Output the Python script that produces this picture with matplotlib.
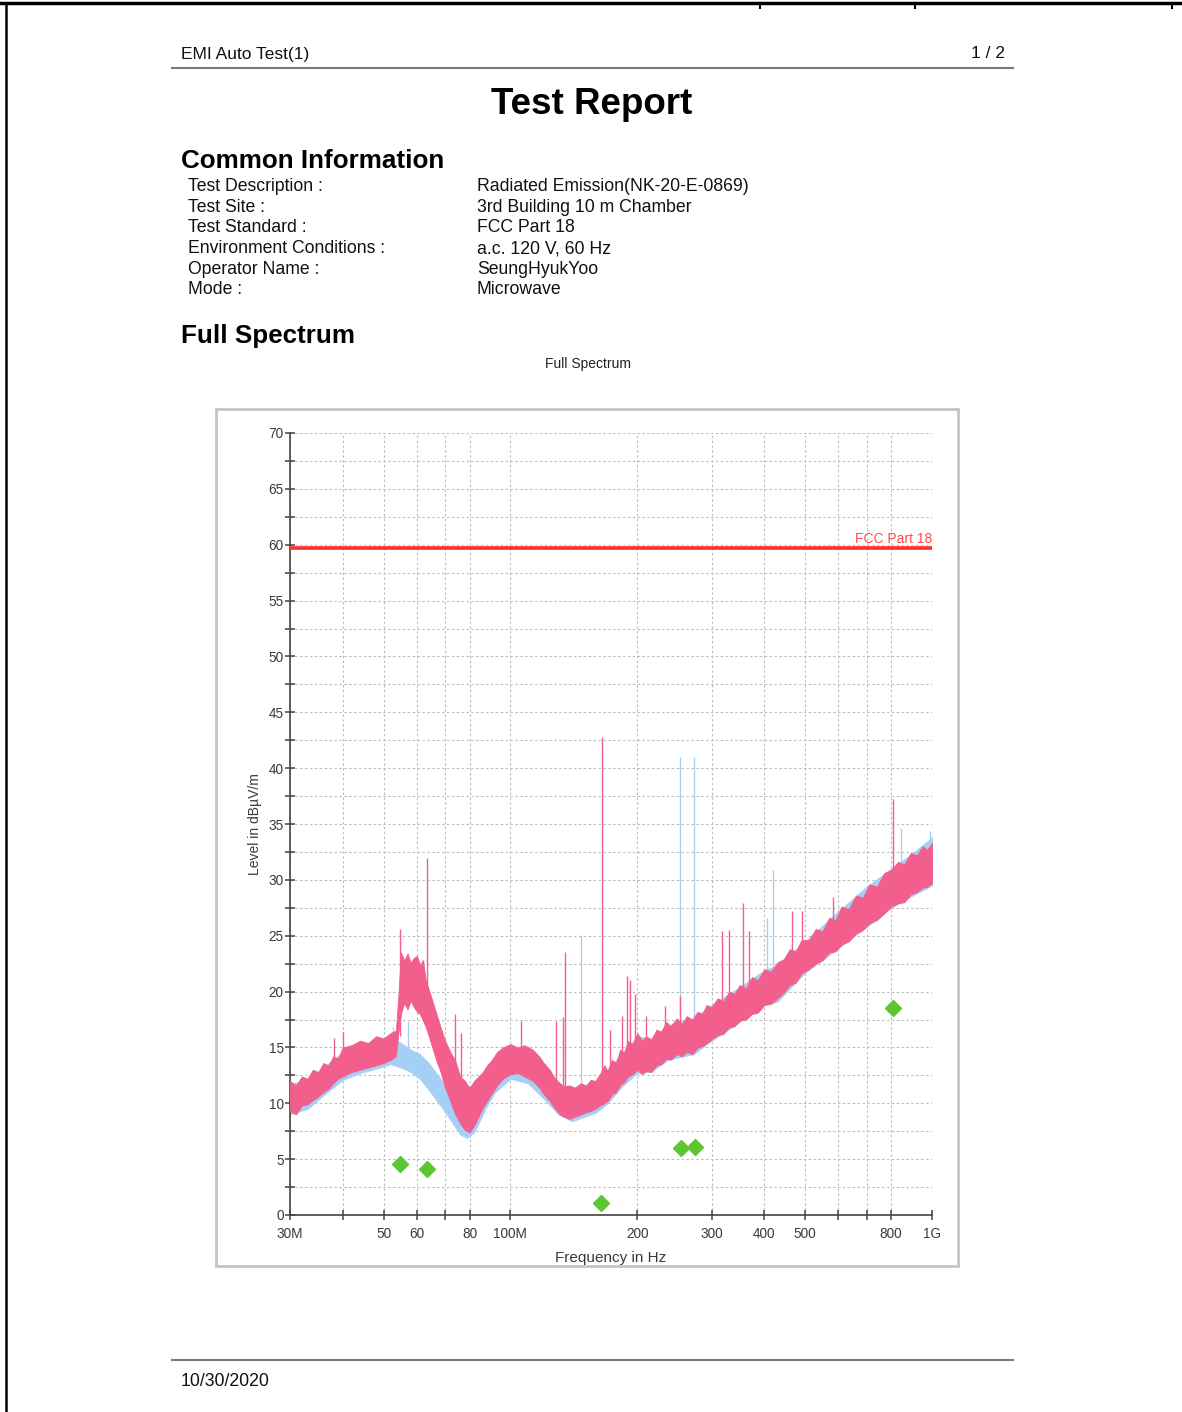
import matplotlib
matplotlib.use("Agg")
import matplotlib.pyplot as plt
from matplotlib.patches import Rectangle
from matplotlib.lines import Line2D
from matplotlib.ticker import FixedLocator, FixedFormatter, MultipleLocator

plt.rcParams['font.family'] = ['Liberation Sans', 'DejaVu Sans']

W, H = 1182, 1412

# --- page text ---
info_labels = ["Test Description :", "Test Site :", "Test Standard :",
               "Environment Conditions :", "Operator Name :", "Mode :"]
info_values = ["Radiated Emission(NK-20-E-0869)", "3rd Building 10 m Chamber",
               "FCC Part 18", "a.c. 120 V, 60 Hz", "SeungHyukYoo", "Microwave"]

# --- peak trace (pink), envelope of the noisy sweep, MHz / dBuV/m ---
pk_freq = [30, 31, 32, 33, 34, 35, 36, 37, 38, 39, 40, 42, 44, 46, 48, 50, 52, 53.5,
           54.3, 55, 56, 57, 58, 59, 60, 61, 62, 63, 64, 65, 66, 67, 68, 70, 72, 74,
           76, 78, 80, 82, 84, 86, 88, 90, 93, 96, 100, 104, 108, 113, 117, 120, 124,
           127, 131, 134, 138, 142, 147, 151, 155, 159, 163, 167, 170, 174, 178, 182,
           186, 190, 195, 200, 205, 210, 216, 222, 228, 234, 240, 248, 255, 262, 270,
           278, 285, 292, 300, 310, 320, 330, 340, 350, 362, 374, 386, 400, 415, 430,
           445, 460, 475, 490, 510, 530, 550, 570, 590, 610, 635, 660, 685, 710, 740,
           770, 800, 830, 860, 890, 920, 950, 975, 1000]
pk_lo = [9.3, 9.0, 9.8, 9.9, 10.3, 10.6, 11.0, 11.3, 11.8, 12.2, 12.4, 12.8, 13.0, 13.2,
         13.4, 13.6, 13.9, 14.2, 16.5, 18.0, 19.0, 18.4, 19.2, 18.6, 18.2, 18.0, 17.4,
         16.8, 16.0, 15.2, 14.4, 13.6, 13.0, 11.4, 10.2, 9.0, 8.2, 7.6, 7.4, 8.0, 8.8,
         9.6, 10.2, 10.8, 11.6, 12.2, 12.6, 12.7, 12.4, 12.0, 11.4, 10.8, 10.2, 9.6, 9.0,
         8.8, 8.6, 8.8, 9.0, 9.2, 9.3, 9.5, 9.8, 10.0, 10.2, 10.8, 11.0, 11.6, 11.9, 12.4,
         12.6, 13.0, 12.6, 12.9, 12.8, 13.4, 13.5, 14.0, 13.9, 14.4, 14.2, 14.6, 14.4,
         15.0, 15.1, 15.4, 15.7, 16.1, 16.2, 16.8, 16.9, 17.4, 17.5, 18.0, 18.1, 18.8,
         18.9, 19.4, 19.9, 20.6, 20.8, 21.6, 22.0, 22.5, 22.8, 23.5, 23.6, 24.2, 24.5,
         25.2, 25.5, 26.1, 26.4, 27.0, 27.6, 27.9, 28.0, 28.7, 28.9, 29.3, 29.4, 29.7]
pk_hi = [12.0, 11.6, 12.4, 12.2, 13.0, 12.8, 13.6, 13.4, 14.2, 14.0, 15.0, 15.2, 15.6,
         15.4, 16.0, 15.8, 16.3, 16.5, 20.0, 23.5, 22.8, 23.4, 22.6, 23.0, 23.2, 22.4,
         22.8, 21.0, 20.2, 19.4, 18.6, 17.8, 17.0, 15.6, 14.6, 13.8, 12.4, 12.0, 11.4,
         12.0, 12.4, 12.8, 13.4, 13.8, 14.6, 15.0, 15.3, 15.0, 15.2, 14.8, 14.2, 13.6,
         13.0, 12.3, 11.8, 11.5, 11.6, 11.4, 11.8, 11.6, 12.1, 12.0, 12.6, 13.4, 12.9,
         13.9, 13.6, 14.8, 14.5, 15.6, 15.3, 16.3, 15.6, 16.0, 15.7, 16.6, 16.4, 17.3,
         16.9, 17.6, 17.1, 17.8, 17.5, 18.2, 18.0, 18.8, 18.6, 19.4, 19.1, 20.0, 19.8,
         20.6, 20.3, 21.3, 21.0, 22.0, 21.8, 22.6, 22.9, 23.8, 23.6, 24.6, 24.6, 25.6,
         25.4, 26.6, 26.4, 27.6, 27.4, 28.6, 28.4, 29.6, 29.4, 30.6, 30.9, 31.6, 31.4,
         32.4, 32.2, 33.0, 32.7, 33.3]

# --- second trace (light blue) ---
bl_freq = [30, 33, 36, 40, 44, 48, 52, 55, 58, 61, 64, 67, 70, 73, 76, 79, 82, 85, 88,
           92, 100, 110, 120, 130, 140, 150, 160, 170, 185, 200, 215, 237, 272, 300,
           350, 400, 430, 500, 600, 700, 800, 900, 1000]
bl_lo = [9.0, 9.5, 10.7, 12.1, 12.7, 13.1, 13.5, 13.2, 12.8, 12.2, 11.2, 10.2, 9.2, 8.2,
         7.2, 6.9, 7.4, 8.6, 9.8, 11.0, 12.2, 11.8, 10.4, 9.0, 8.4, 8.8, 9.2, 10.0, 11.6,
         12.7, 12.8, 13.9, 14.4, 15.6, 17.3, 18.8, 19.1, 21.7, 23.9, 25.8, 27.5, 28.6, 29.5]
bl_hi = [11.8, 12.0, 13.2, 14.6, 15.2, 15.6, 16.0, 15.4, 14.8, 14.4, 13.6, 12.6, 11.6,
         10.6, 9.8, 9.4, 10.2, 11.6, 12.6, 13.8, 15.0, 14.8, 13.4, 11.8, 11.2, 11.4, 12.0,
         13.0, 14.6, 16.0, 15.8, 17.0, 17.6, 18.8, 20.4, 21.9, 22.4, 24.5, 27.2, 29.4,
         31.0, 32.4, 33.8]

# --- narrow spikes: frequency, foot, top ---
pk_spike_freq = [38.2, 40, 54.8, 62.0, 63.3, 73.8, 76.5, 106, 128, 133, 134.8, 164.7,
                 172, 184, 189, 192, 197, 210, 233, 252, 317, 330, 356, 369, 466, 492,
                 582, 807]
pk_spike_base = [13, 13.5, 16, 20, 20, 13, 11, 14, 11, 11, 11, 11, 13, 14, 14, 14, 15,
                 15, 16, 16, 18, 18, 20, 20, 22, 23, 26, 30]
pk_spike_top = [15.8, 16.4, 25.6, 22.8, 32.0, 18.0, 16.3, 17.4, 17.4, 17.7, 23.5, 42.8,
                16.6, 17.8, 21.4, 21.0, 19.8, 17.8, 18.7, 19.6, 25.4, 25.5, 27.9, 25.4,
                27.2, 27.2, 28.5, 37.2]
bl_spike_freq = [52.6, 57, 147, 252, 273, 405, 419, 844, 990]
bl_spike_base = [15, 14, 11, 16, 17, 21, 21, 31, 32]
bl_spike_top = [16.8, 17.4, 25.1, 41.0, 41.0, 26.6, 30.9, 34.6, 34.4]

# --- final measurement points ---
final_freq = [54.7, 63.4, 164.1, 253.9, 274.0, 807.0]
final_level = [4.6, 4.1, 1.1, 6.0, 6.1, 18.5]

limit_name = "FCC Part 18"
limit_level = 59.7

x_ticks = [30, 40, 50, 60, 70, 80, 100, 200, 300, 400, 500, 600, 700, 800, 1000]
x_ticklabels = ["30M", "", "50", "60", "", "80", "100M", "200", "300", "400", "500",
                "", "", "800", "1G"]

PINK = "#f25f8c"
BLUE = "#a6cff5"
GREEN = "#5cc732"
RED = "#ff2d2d"
TXT = "#3a3a3a"


def fx(x):
    return x / W


def fy(y):
    return 1 - y / H


fig = plt.figure(figsize=(W / 100, H / 100), dpi=100)

# page frame bits
fig.add_artist(Line2D([0, 1], [fy(3), fy(3)], color="black", lw=2.5))
fig.add_artist(Line2D([fx(6), fx(6)], [fy(3), 0], color="black", lw=1.8))
for xx in [760, 915, 1172]:
    fig.add_artist(Line2D([fx(xx), fx(xx)], [fy(3), fy(8)], color="black", lw=1.5))

# header
fig.text(fx(181), fy(54), "EMI Auto Test(1)", fontsize=12.5, va="center", color="#111111")
fig.text(fx(1005), fy(54), "1 / 2", fontsize=12.5, va="center", ha="right", color="#111111")
fig.add_artist(Line2D([fx(172), fx(1013)], [fy(68), fy(68)], color="#7a7a7a", lw=1.5))
fig.text(fx(592), fy(105), "Test Report", fontsize=26.5, fontweight="bold",
         ha="center", va="center", color="black")

fig.text(fx(181), fy(161), "Common Information", fontsize=18.7, fontweight="bold",
         va="center", color="black")
rows_y = [186.5, 207, 228, 248.5, 269, 289.5]
for lab, val, yy in zip(info_labels, info_values, rows_y):
    fig.text(fx(188), fy(yy), lab, fontsize=12.7, va="center", color="#111111")
    fig.text(fx(477), fy(yy), val, fontsize=12.7, va="center", color="#111111")

fig.text(fx(181), fy(336), "Full Spectrum", fontsize=18.7, fontweight="bold",
         va="center", color="black")
fig.text(fx(588), fy(364), "Full Spectrum", fontsize=10, ha="center", va="center",
         color="#222222")

# chart frame
fig.add_artist(Rectangle((fx(216), fy(1266)), fx(958) - fx(216), fy(409) - fy(1266),
                         fill=False, edgecolor="#c4c4c4", lw=2))

# footer
fig.add_artist(Line2D([fx(172), fx(1013)], [fy(1360), fy(1360)], color="#7a7a7a", lw=1.5))
fig.text(fx(181), fy(1382), "10/30/2020", fontsize=12.7, va="center", color="#111111")

# --- plot ---
ax = fig.add_axes([fx(290), fy(1215), fx(932) - fx(290), fy(433) - fy(1215)])
ax.set_xscale("log")

Hz = 1e6
ax.fill_between([f * Hz for f in bl_freq], bl_lo, bl_hi, color=BLUE, lw=0.6, zorder=2)
ax.vlines([f * Hz for f in bl_spike_freq], bl_spike_base, bl_spike_top, color=BLUE,
          lw=1.0, zorder=2)
ax.fill_between([f * Hz for f in pk_freq], pk_lo, pk_hi, color=PINK, lw=0.6, zorder=3)
ax.vlines([f * Hz for f in pk_spike_freq], pk_spike_base, pk_spike_top, color=PINK,
          lw=1.0, zorder=3)

ax.plot([30 * Hz, 1000 * Hz], [limit_level, limit_level], color=RED, lw=2.6, zorder=4)
ax.text(1000 * Hz, limit_level + 0.15, limit_name, color="#ff4a4a", fontsize=10,
        ha="right", va="bottom", zorder=5)

ax.plot([f * Hz for f in final_freq], final_level, linestyle="none", marker="D",
        markersize=8.5, color=GREEN, zorder=5, clip_on=False)

ax.set_xlim(30 * Hz, 1000 * Hz)
ax.set_ylim(0, 70)
ax.xaxis.set_major_locator(FixedLocator([t * Hz for t in x_ticks]))
ax.xaxis.set_major_formatter(FixedFormatter(x_ticklabels))
ax.xaxis.set_minor_locator(FixedLocator([]))
ax.yaxis.set_major_locator(MultipleLocator(5))
ax.yaxis.set_minor_locator(MultipleLocator(2.5))

grid_kw = dict(color="#bdbdbd", lw=0.8, linestyle=(0, (2.2, 2.2)))
ax.grid(True, which="major", axis="both", **grid_kw)
ax.grid(True, which="minor", axis="y", **grid_kw)
ax.set_axisbelow(True)

for s in ["top", "right"]:
    ax.spines[s].set_visible(False)
for s in ["left", "bottom"]:
    ax.spines[s].set_color("#444444")
    ax.spines[s].set_linewidth(1.2)

ax.tick_params(which="both", direction="inout", length=7, width=1.1, color="#444444",
               labelsize=9.8, labelcolor=TXT)
ax.tick_params(axis="y", pad=1)
ax.tick_params(axis="x", pad=5)

ax.set_xlabel("Frequency in Hz", fontsize=11, color=TXT, labelpad=7)
ax.set_ylabel("Level in dB\u00b5V/m", fontsize=10, color=TXT, labelpad=5)

fig.savefig("out.png", dpi=100, facecolor="white")
